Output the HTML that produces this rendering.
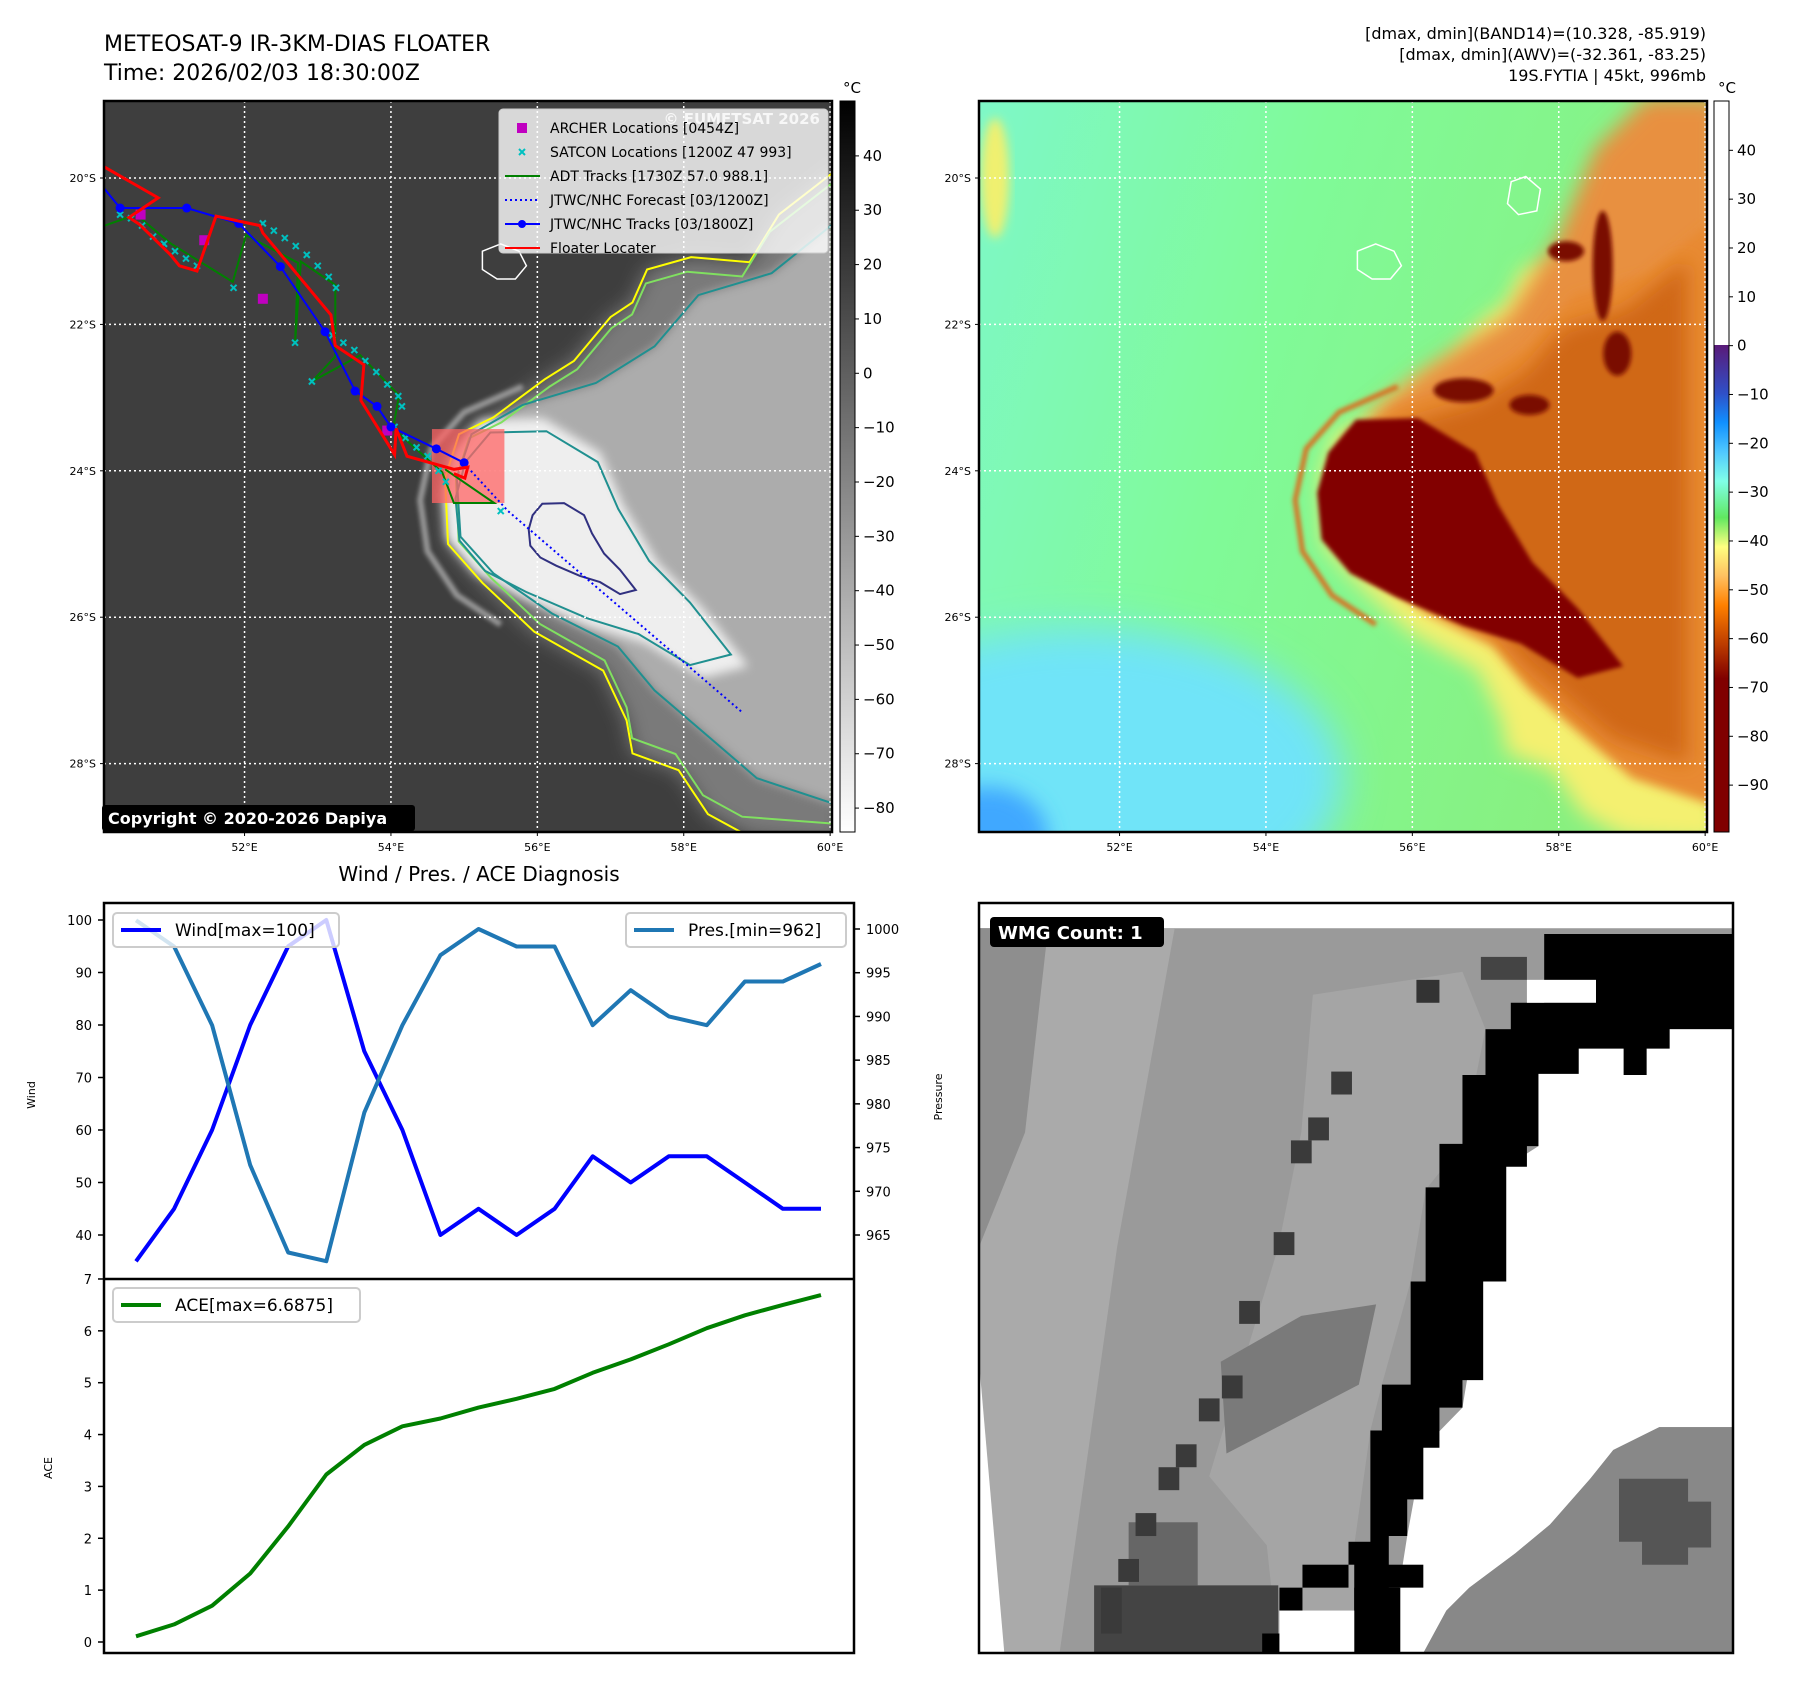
<!DOCTYPE html>
<html><head><meta charset="utf-8"><title>METEOSAT-9 IR Floater</title>
<style>
html,body{margin:0;padding:0;background:#fff;}
svg{display:block;font-family:"DejaVu Sans","Liberation Sans",sans-serif;}
</style></head>
<body>
<svg id="root" xmlns="http://www.w3.org/2000/svg" width="1797" height="1690" viewBox="0 0 1797 1690">
<defs>
  <clipPath id="clipL"><rect x="104" y="101" width="728" height="731"/></clipPath>
  <clipPath id="clipR"><rect x="979" y="101" width="728" height="731"/></clipPath>
  <clipPath id="clipW"><rect x="979" y="903" width="754" height="750"/></clipPath>
  <filter id="b2" x="-20%" y="-20%" width="140%" height="140%"><feGaussianBlur stdDeviation="2"/></filter>
  <filter id="b5" x="-20%" y="-20%" width="140%" height="140%"><feGaussianBlur stdDeviation="5"/></filter>
  <filter id="b10" x="-30%" y="-30%" width="160%" height="160%"><feGaussianBlur stdDeviation="10"/></filter>
  <filter id="b20" x="-50%" y="-50%" width="200%" height="200%"><feGaussianBlur stdDeviation="20"/></filter>
  <linearGradient id="cbGray" x1="0" y1="0" x2="0" y2="1">
    <stop offset="0" stop-color="#000"/><stop offset="1" stop-color="#fff"/>
  </linearGradient>
  <linearGradient id="cbColor" x1="0" y1="0" x2="0" y2="1">
    <stop offset="0" stop-color="#fff"/>
    <stop offset="0.3337" stop-color="#fff"/>
    <stop offset="0.3338" stop-color="#5a1a78"/>
    <stop offset="0.40" stop-color="#2f50c8"/>
    <stop offset="0.44" stop-color="#1090ff"/>
    <stop offset="0.48" stop-color="#50c8ff"/>
    <stop offset="0.52" stop-color="#80ffe8"/>
    <stop offset="0.57" stop-color="#60e860"/>
    <stop offset="0.61" stop-color="#ffff80"/>
    <stop offset="0.65" stop-color="#ffc060"/>
    <stop offset="0.69" stop-color="#ff8000"/>
    <stop offset="0.74" stop-color="#c04000"/>
    <stop offset="0.79" stop-color="#800000"/>
    <stop offset="1" stop-color="#800000"/>
  </linearGradient>
  <linearGradient id="rbg" x1="0" y1="0" x2="1" y2="0.3">
    <stop offset="0" stop-color="#7ef8c8"/><stop offset="0.45" stop-color="#80fa98"/><stop offset="1" stop-color="#88f080"/>
  </linearGradient>
</defs>

<text x="104" y="51" font-size="22" fill="#000">METEOSAT-9 IR-3KM-DIAS FLOATER</text>
<text x="104" y="80" font-size="22" fill="#000">Time: 2026/02/03 18:30:00Z</text>
<g font-size="16" text-anchor="end" fill="#000">
  <text x="1706" y="39">[dmax, dmin](BAND14)=(10.328, -85.919)</text>
  <text x="1706" y="60">[dmax, dmin](AWV)=(-32.361, -83.25)</text>
  <text x="1706" y="81">19S.FYTIA | 45kt, 996mb</text>
</g>

<g id="mapL" clip-path="url(#clipL)"></g>
<rect x="104" y="101" width="728" height="731" fill="none" stroke="#000" stroke-width="2.5"/>
<g id="legendL"></g>
<g>
  <rect x="102" y="805" width="313" height="26" rx="3" fill="#000"/>
  <text x="108" y="824" font-size="16" font-weight="bold" fill="#fff">Copyright © 2020-2026 Dapiya</text>
</g>
<g id="ticksL"></g>

<rect x="840" y="101" width="15" height="731" fill="url(#cbGray)" stroke="#000" stroke-width="1"/>
<text x="852" y="93" font-size="15" text-anchor="middle">°C</text>
<g id="cbTicksL"></g>

<g id="mapR" clip-path="url(#clipR)"></g>
<rect x="979" y="101" width="728" height="731" fill="none" stroke="#000" stroke-width="2.5"/>
<g id="ticksR"></g>
<rect x="1714" y="101" width="15" height="731" fill="url(#cbColor)" stroke="#000" stroke-width="1"/>
<text x="1727" y="93" font-size="15" text-anchor="middle">°C</text>
<g id="cbTicksR"></g>

<text x="479" y="881" font-size="20" text-anchor="middle">Wind / Pres. / ACE Diagnosis</text>
<g id="chart"></g>

<g clip-path="url(#clipW)">
 <g transform="translate(979,903) scale(1.1511,1.1468)">
  <rect x="0" y="0" width="655" height="654" fill="#fff"/>
  <rect x="0" y="22" width="655" height="632" fill="#9a9a9a"/>
  <polygon points="0,22 170,22 120,300 70,654 0,654" fill="#aaaaaa"/>
  <polygon points="0,400 22,654 0,654" fill="#fff"/>
  <polygon points="0,22 60,22 40,200 0,300" fill="#8e8e8e"/>
  <polygon points="290,80 420,60 440,110 420,210 388,250 375,330 350,420 340,460 326,560 326,654 260,654 250,560 200,500 230,400 260,300 280,200" fill="#a5a5a5"/>
  <polygon points="280,360 345,350 330,420 215,480 210,400" fill="#7a7a7a"/>
  <rect x="100" y="595" width="160" height="59" fill="#444"/>
  <rect x="130" y="540" width="60" height="55" fill="#666"/>
  <polygon points="440,110 655,110 655,457 591,457 551,477 531,502 496,542 466,567 426,597 406,617 386,654 356,654 372,552 386,475 420,440 438,330 458,330 458,230 486,212 486,149" fill="#fff"/>
  <polygon points="386,654 406,617 426,597 466,567 496,542 531,502 551,477 591,457 655,457 655,654" fill="#888"/>
  <polygon points="556,502 616,502 616,522 636,522 636,562 616,562 616,577 576,577 576,557 556,557" fill="#555"/>
  <polygon points="491,27 655,27 655,110 600,110 600,127 580,127 580,150 560,150 560,127 521,127 521,149 486,149 486,212 476,212 476,230 458,230 458,330 438,330 438,416 420,416 420,440 400,440 400,475 386,475 386,520 372,520 372,552 356,552 356,654 326,654 326,560 340,560 340,460 350,460 350,420 375,420 375,330 388,330 388,248 400,248 400,210 420,210 420,150 440,150 440,110 462,110 462,87 491,87" fill="#000"/>
  <rect x="476" y="67" width="60" height="20" fill="#fff"/>
  <rect x="436" y="47" width="40" height="20" fill="#444"/>
  <rect x="380" y="67" width="20" height="20" fill="#333"/>
  <g fill="#3a3a3a">
   <rect x="306" y="147" width="18" height="20"/><rect x="286" y="187" width="18" height="20"/>
   <rect x="271" y="207" width="18" height="20"/><rect x="256" y="287" width="18" height="20"/>
   <rect x="226" y="347" width="18" height="20"/><rect x="211" y="412" width="18" height="20"/>
   <rect x="191" y="432" width="18" height="20"/><rect x="171" y="472" width="18" height="20"/>
   <rect x="156" y="492" width="18" height="20"/><rect x="136" y="532" width="18" height="20"/>
   <rect x="121" y="572" width="18" height="20"/><rect x="106" y="597" width="18" height="40"/>
  </g>
  <g fill="#000">
   <rect x="261" y="597" width="20" height="20"/><rect x="281" y="577" width="40" height="20"/>
   <rect x="321" y="557" width="20" height="20"/><rect x="341" y="577" width="45" height="20"/>
   <rect x="246" y="637" width="20" height="17"/><rect x="326" y="597" width="40" height="57"/>
  </g>
  <rect x="261" y="617" width="65" height="37" fill="#fff"/>
 </g>
</g>
<rect x="979" y="903" width="754" height="750" fill="none" stroke="#000" stroke-width="2.5"/>
<g>
  <rect x="990" y="917" width="174" height="30" rx="4" fill="#000"/>
  <text x="998" y="939" font-size="18" font-weight="bold" fill="#fff">WMG Count: 1</text>
</g>
</svg>

<script>
const NS='http://www.w3.org/2000/svg';
function mk(tag, attrs, parent){const e=document.createElementNS(NS,tag);for(const k in attrs)e.setAttribute(k,attrs[k]);parent.appendChild(e);return e;}

const windVals=[35,45,60,80,95,100,75,60,40,45,40,45,55,50,55,55,50,45,45];
const presVals=[1001,998,989,973,963,962,979,989,997,1000,998,998,989,993,990,989,994,994,996];
const aceVals=[0.11,0.34,0.70,1.32,2.23,3.23,3.80,4.16,4.31,4.52,4.69,4.88,5.19,5.45,5.74,6.05,6.30,6.50,6.69];
const windTicks=[40,50,60,70,80,90,100];
const presTicks=[965,970,975,980,985,990,995,1000];
const aceTicks=[0,1,2,3,4,5,6,7];

const latTicks=[20,22,24,26,28];
const lonTicks=[52,54,56,58,60];
const irCbTicks=[40,30,20,10,0,-10,-20,-30,-40,-50,-60,-70,-80];
const awvCbTicks=[40,30,20,10,0,-10,-20,-30,-40,-50,-60,-70,-80,-90];
const jtwcTrack=[[50.08,20.14],[50.30,20.41],[51.21,20.41],[51.92,20.62],[52.49,21.21],[53.10,22.10],[53.51,22.91],[53.81,23.12],[54.00,23.40],[54.62,23.70],[55.00,23.89]];
const floaterTrack=[[50.0,19.8],[50.82,20.27],[50.42,20.54],[50.56,20.63],[50.99,21.05],[51.11,21.2],[51.35,21.27],[51.61,20.52],[52.21,20.65],[52.25,20.75],[53.18,21.87],[53.24,22.29],[53.63,22.55],[53.59,23.04],[54.05,23.78],[54.07,23.42],[54.22,23.8],[54.86,23.98],[55.05,23.95],[55.01,24.1],[54.86,24.04]];
const adtTrack=[[50.0,20.68],[50.52,20.5],[51.0,20.9],[51.84,21.42],[52.02,20.78],[52.73,21.16],[52.69,22.25],[52.77,21.14],[53.24,21.46],[53.24,22.44],[52.92,22.78],[53.58,22.42],[54.11,22.97],[54.03,23.42],[54.7,24.02],[54.86,24.44],[55.41,24.44],[54.74,23.98]];
const forecastTrack=[[55.0,23.9],[55.6,24.55],[58.8,27.3]];
const archerPts=[[50.58,20.5],[51.45,20.85],[52.25,21.65],[53.95,23.45]];
const satconPts=[[50.3,20.5],[50.45,20.55],[50.6,20.65],[50.75,20.8],[50.9,20.9],[51.05,21.0],[51.2,21.1],[51.35,21.2],[51.85,21.5],
 [52.25,20.62],[52.4,20.72],[52.55,20.82],[52.7,20.93],[52.85,21.05],[53.0,21.2],[53.15,21.35],[53.25,21.5],
 [52.69,22.25],[52.92,22.78],[53.2,22.15],[53.35,22.25],[53.5,22.35],[53.65,22.5],[53.8,22.65],[53.95,22.82],[54.1,22.98],[54.15,23.12],
 [54.05,23.4],[54.2,23.55],[54.35,23.68],[54.5,23.8],[54.65,24.0],[54.75,24.15],[55.5,24.55]];

const envelope=[[60.2,19.8],[59.3,20.5],[58.9,21.15],[58.1,21.08],[57.5,21.25],[57.3,21.7],[57.0,21.9],[56.5,22.5],[56.1,22.75],[55.4,23.27],[54.93,23.5],[54.74,24.1],[54.78,25.0],[55.25,25.53],[55.96,26.2],[56.9,26.73],[57.22,27.41],[57.3,27.86],[57.93,28.09],[58.33,28.69],[58.9,29.0],[60.2,29.1]];
const midShape=[[60.2,20.5],[59.2,21.3],[58.2,21.6],[57.6,22.3],[56.8,22.8],[55.8,23.1],[55.1,23.5],[54.9,24.1],[54.95,24.9],[55.4,25.4],[56.2,25.95],[57.1,26.4],[57.6,27.0],[58.3,27.6],[59.0,28.2],[60.2,28.6]];
const coreShape=[[54.7,24.3],[54.85,23.75],[55.23,23.3],[56.08,23.28],[56.86,23.75],[57.17,24.46],[57.64,25.25],[58.26,25.88],[58.88,26.67],[58.26,26.83],[57.48,26.36],[56.7,26.12],[55.77,25.72],[55.15,25.4],[54.76,24.94]];
const northArm=[[55.3,23.3],[56.2,22.6],[57.3,21.9],[58.0,20.8],[58.5,19.6],[59.2,18.9],[60.2,18.9],[60.2,21.8],[59.4,22.5],[58.8,23.5],[57.6,23.7],[56.5,23.4]];
const reunion=[[55.25,21.0],[55.5,20.9],[55.75,21.0],[55.85,21.2],[55.7,21.38],[55.45,21.38],[55.25,21.25]];
const mauritius=[[57.35,20.05],[57.55,19.98],[57.75,20.15],[57.7,20.45],[57.45,20.5],[57.3,20.35]];
const arcPath=[[55.8,22.85],[55.0,23.2],[54.55,23.7],[54.4,24.4],[54.5,25.1],[54.9,25.7],[55.5,26.1]];

const PX=73.2;
function projL(lon,lat){return [104+(lon-50.08)*PX, 101+(lat-18.948)*PX];}
function projR(lon,lat){return [979+(lon-50.08)*PX, 101+(lat-18.948)*PX];}
function pathOf(pts,proj,close){return 'M'+pts.map(p=>proj(p[0],p[1]).map(v=>v.toFixed(1)).join(',')).join('L')+(close?'Z':'');}
function shrink(pts,f){let cx=0,cy=0;pts.forEach(p=>{cx+=p[0];cy+=p[1];});cx/=pts.length;cy/=pts.length;return pts.map(p=>[cx+(p[0]-cx)*f,cy+(p[1]-cy)*f]);}

const mL=document.getElementById('mapL');
let el;
el=mk('rect',{x:104,y:101,width:728,height:731,fill:'#3e3e3e'},mL);

el=mk('path',{d:pathOf(envelope,projL,true),fill:'#7a7a7a',filter:'url(#b10)'},mL);

el=mk('path',{d:pathOf(midShape,projL,true),fill:'#acacac',filter:'url(#b5)'},mL);

el=mk('path',{d:pathOf(coreShape,projL,true),fill:'#eeeeee',filter:'url(#b5)'},mL);

el=mk('path',{d:pathOf(arcPath,projL,false),fill:'none',stroke:'#9a9a9a','stroke-width':6,filter:'url(#b2)'},mL);

el=mk('path',{d:pathOf(envelope,projL,true),fill:'none',stroke:'#ffff00','stroke-width':2},mL);

el=mk('path',{d:pathOf(shrink(envelope,0.94),projL,true),fill:'none',stroke:'#80e060','stroke-width':2},mL);

el=mk('path',{d:pathOf(midShape,projL,true),fill:'none',stroke:'#209090','stroke-width':2},mL);

el=mk('path',{d:pathOf(shrink(coreShape,0.9),projL,true),fill:'none',stroke:'#209090','stroke-width':2},mL);

el=mk('path',{d:pathOf(shrink(coreShape,0.35),projL,true),fill:'none',stroke:'#303080','stroke-width':2},mL);

el=mk('path',{d:pathOf(reunion,projL,true),fill:'none',stroke:'#fff','stroke-width':1.5},mL);

latTicks.forEach(la=>{const y=projL(50,la)[1];
  el=mk('line',{x1:104,y1:y,x2:832,y2:y,stroke:'#fff','stroke-width':1.5,'stroke-dasharray':'2,3'},mL);
  });
lonTicks.forEach(lo=>{const x=projL(lo,20)[0];
  el=mk('line',{x1:x,y1:101,x2:x,y2:832,stroke:'#fff','stroke-width':1.5,'stroke-dasharray':'2,3'},mL);
  });
{const a=projL(54.56,23.43),b=projL(55.55,24.44);
 el=mk('rect',{x:a[0],y:a[1],width:b[0]-a[0],height:b[1]-a[1],fill:'rgba(255,100,100,0.75)'},mL);
 }
el=mk('path',{d:pathOf(adtTrack,projL,false),fill:'none',stroke:'#008000','stroke-width':2},mL);

satconPts.forEach(p=>{const q=projL(p[0],p[1]);
  el=mk('path',{d:`M${q[0]-3},${q[1]-3}L${q[0]+3},${q[1]+3}M${q[0]-3},${q[1]+3}L${q[0]+3},${q[1]-3}`,stroke:'#00c0c0','stroke-width':2},mL);
  });
archerPts.forEach(p=>{const q=projL(p[0],p[1]);
  el=mk('rect',{x:q[0]-5,y:q[1]-5,width:10,height:10,fill:'#c000c0'},mL);
  });
el=mk('path',{d:pathOf(forecastTrack,projL,false),fill:'none',stroke:'#0000ff','stroke-width':2,'stroke-dasharray':'2,3'},mL);

el=mk('path',{d:pathOf(jtwcTrack,projL,false),fill:'none',stroke:'#0000ff','stroke-width':2},mL);

jtwcTrack.slice(1).forEach(p=>{const q=projL(p[0],p[1]);
  el=mk('circle',{cx:q[0],cy:q[1],r:4.5,fill:'#0000ff'},mL);
  });
el=mk('path',{d:pathOf(floaterTrack,projL,false),fill:'none',stroke:'#ff0000','stroke-width':3},mL);

el=mk('text',{x:820,y:124,'font-size':15,'font-weight':'bold','text-anchor':'end',fill:'#d8d8d8'},mL);
el.textContent='© EUMETSAT 2026';


const lg=document.getElementById('legendL');
el=mk('rect',{x:499,y:109,width:329,height:144,rx:4,fill:'rgba(255,255,255,0.8)',stroke:'#ccc','stroke-width':1},lg);

const legendLabels=['ARCHER Locations [0454Z]','SATCON Locations [1200Z 47 993]','ADT Tracks [1730Z 57.0 988.1]','JTWC/NHC Forecast [03/1200Z]','JTWC/NHC Tracks [03/1800Z]','Floater Locater'];
legendLabels.forEach((t,i)=>{const y=128+i*24;
  let h;
  if(i===0){h=mk('rect',{x:517,y:y-5,width:10,height:10,fill:'#c000c0'},lg);}
  else if(i===1){h=mk('path',{d:`M519,${y-3}L525,${y+3}M519,${y+3}L525,${y-3}`,stroke:'#00c0c0','stroke-width':2},lg);}
  else{const col=i===2?'#008000':i===5?'#ff0000':'#0000ff';
    h=mk('line',{x1:505,y1:y,x2:540,y2:y,stroke:col,'stroke-width':2,'stroke-dasharray':i===3?'2,3':'none'},lg);
    if(i===4){mk('circle',{cx:522,cy:y,r:4,fill:'#0000ff'},lg);}}
  
  el=mk('text',{x:550,y:y+5,'font-size':14,fill:'#000'},lg);
  el.textContent=t;
  
});

function mapTicks(gid,proj,x0){
  const g=document.getElementById(gid);
  latTicks.forEach(la=>{const y=proj(50.08,la)[1];
    mk('line',{x1:x0-4,y1:y,x2:x0,y2:y,stroke:'#000','stroke-width':1},g);
    el=mk('text',{x:x0-8,y:y+4,'font-size':11,'text-anchor':'end'},g);
    el.textContent=la+'°S';
    });
  lonTicks.forEach(lo=>{const x=proj(lo,20)[0];
    mk('line',{x1:x,y1:832,x2:x,y2:836,stroke:'#000','stroke-width':1},g);
    el=mk('text',{x:x,y:851,'font-size':11,'text-anchor':'middle'},g);
    el.textContent=lo+'°E';
    });
}
mapTicks('ticksL',projL,104);
mapTicks('ticksR',projR,979);

function cbTicks(gid,ticks,x,top,vmax,vmin){
  const g=document.getElementById(gid);
  ticks.forEach(v=>{const y=101+(vmax-v)/(vmax-vmin)*731;
    mk('line',{x1:x,y1:y,x2:x+4,y2:y,stroke:'#000','stroke-width':1},g);
    el=mk('text',{x:x+8,y:y+5,'font-size':15},g);
    el.textContent=v<0?'\u2212'+Math.abs(v):String(v);
    });
}
cbTicks('cbTicksL',irCbTicks,855,101,50.1,-84.4);
cbTicks('cbTicksR',awvCbTicks,1729,101,50.1,-99.6);

const mR=document.getElementById('mapR');
el=mk('rect',{x:979,y:101,width:728,height:731,fill:'url(#rbg)'},mR);

{const c=projR(51.5,28.2);
 el=mk('ellipse',{cx:c[0],cy:c[1],rx:260,ry:150,fill:'#70e4f8',filter:'url(#b20)'},mR);
 
 const d=projR(50.2,29.0);
 el=mk('ellipse',{cx:d[0],cy:d[1],rx:60,ry:50,fill:'#40a8ff',filter:'url(#b10)'},mR);
 
 const e=projR(50.3,20.0);
 el=mk('ellipse',{cx:e[0],cy:e[1],rx:14,ry:60,fill:'#f0f070',filter:'url(#b5)'},mR);
 }
el=mk('path',{d:pathOf(envelope,projR,true),fill:'#f4f070',filter:'url(#b10)'},mR);

el=mk('path',{d:pathOf(northArm,projR,true),fill:'#e89040',filter:'url(#b10)'},mR);

el=mk('path',{d:pathOf(midShape,projR,true),fill:'#e88a30',filter:'url(#b5)'},mR);

el=mk('path',{d:pathOf(shrink(midShape,0.85),projR,true),fill:'#d06818',filter:'url(#b10)'},mR);

el=mk('path',{d:pathOf(coreShape,projR,true),fill:'#820000',filter:'url(#b2)'},mR);

el=mk('path',{d:pathOf(arcPath,projR,false),fill:'none',stroke:'#d87020','stroke-width':5,filter:'url(#b2)'},mR);

[[58.6,21.2,10,55],[58.8,22.4,14,22],[58.1,21.0,18,10],[56.7,22.9,30,12],[57.6,23.1,20,10]].forEach(s=>{const c=projR(s[0],s[1]);
  el=mk('ellipse',{cx:c[0],cy:c[1],rx:s[2],ry:s[3],fill:'#7a0a00',filter:'url(#b2)'},mR);
  });
latTicks.forEach(la=>{const y=projR(50,la)[1];
  el=mk('line',{x1:979,y1:y,x2:1707,y2:y,stroke:'#fff','stroke-width':1.5,'stroke-dasharray':'2,3'},mR);
  });
lonTicks.forEach(lo=>{const x=projR(lo,20)[0];
  el=mk('line',{x1:x,y1:101,x2:x,y2:832,stroke:'#fff','stroke-width':1.5,'stroke-dasharray':'2,3'},mR);
  });
el=mk('path',{d:pathOf(reunion,projR,true),fill:'none',stroke:'#fff','stroke-width':1.5},mR);

el=mk('path',{d:pathOf(mauritius,projR,true),fill:'none',stroke:'#fff','stroke-width':1.5},mR);


const ch=document.getElementById('chart');
const AX={l:104,r:854,t:903,mid:1279,b:1653};
function xS(i){return 136+i*(821-136)/(windVals.length-1);}
function yWind(v){return 920+(100-v)*5.25;}
function yPres(p){return 929+(1000-p)*8.743;}
function yAce(v){return 1642-v*51.86;}
el=mk('rect',{x:AX.l,y:AX.t,width:AX.r-AX.l,height:AX.b-AX.t,fill:'#fff'},ch);

function line(vals,fy,col){
  const d='M'+vals.map((v,i)=>xS(i).toFixed(1)+','+fy(v).toFixed(1)).join('L');
  return mk('path',{d:d,fill:'none',stroke:col,'stroke-width':4,'stroke-linejoin':'round'},ch);}
el=line(windVals,yWind,'#0000ff');

el=line(presVals,yPres,'#1f77b4');

el=line(aceVals,yAce,'#008000');

el=mk('rect',{x:AX.l,y:AX.t,width:AX.r-AX.l,height:AX.b-AX.t,fill:'none',stroke:'#000','stroke-width':2.5},ch);

el=mk('line',{x1:AX.l,y1:AX.mid,x2:AX.r,y2:AX.mid,stroke:'#000','stroke-width':2.5},ch);

windTicks.forEach(v=>{const y=yWind(v);
  mk('line',{x1:AX.l-6,y1:y,x2:AX.l,y2:y,stroke:'#000','stroke-width':1.5},ch);
  el=mk('text',{x:AX.l-12,y:y+5,'font-size':13,'text-anchor':'end'},ch);
  el.textContent=v;
  });
presTicks.forEach(v=>{const y=yPres(v);
  mk('line',{x1:AX.r,y1:y,x2:AX.r+6,y2:y,stroke:'#000','stroke-width':1.5},ch);
  el=mk('text',{x:AX.r+12,y:y+5,'font-size':13},ch);
  el.textContent=v;
  });
aceTicks.forEach(v=>{const y=yAce(v);
  mk('line',{x1:AX.l-6,y1:y,x2:AX.l,y2:y,stroke:'#000','stroke-width':1.5},ch);
  el=mk('text',{x:AX.l-12,y:y+5,'font-size':13,'text-anchor':'end'},ch);
  el.textContent=v;
  });
el=mk('text',{x:35,y:1095,'font-size':11,'text-anchor':'middle',transform:'rotate(-90 35 1095)'},ch);
el.textContent='Wind';

el=mk('text',{x:942,y:1097,'font-size':11,'text-anchor':'middle',transform:'rotate(-90 942 1097)'},ch);
el.textContent='Pressure';

el=mk('text',{x:52,y:1468,'font-size':11,'text-anchor':'middle',transform:'rotate(-90 52 1468)'},ch);
el.textContent='ACE';

function chartLegend(x,y,w,label,col){
  const g=mk('g',{},ch);
  mk('rect',{x:x,y:y,width:w,height:34,rx:4,fill:'rgba(255,255,255,0.8)',stroke:'#ccc','stroke-width':2},g);
  mk('line',{x1:x+8,y1:y+17,x2:x+48,y2:y+17,stroke:col,'stroke-width':4},g);
  const t=mk('text',{x:x+62,y:y+23,'font-size':17},g);
  t.textContent=label;
  return g;}
el=chartLegend(113,913,226,'Wind[max=100]','#0000ff');

el=chartLegend(626,913,220,'Pres.[min=962]','#1f77b4');

el=chartLegend(113,1288,247,'ACE[max=6.6875]','#008000');

</script>
</body></html>
